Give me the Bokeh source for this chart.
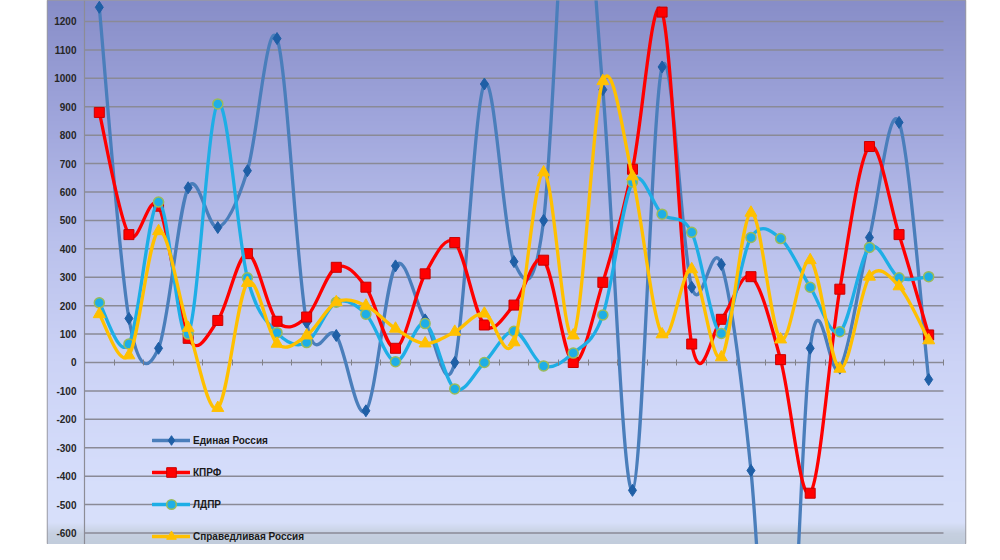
import numpy as np
from bokeh.plotting import figure
from bokeh.models import Range1d, FixedTicker, Legend, LegendItem, LinearAxis
from bokeh.embed import file_html
from bokeh.resources import INLINE

# ---------------- data ----------------
districts = list(range(1, 30))
series_names = ["Единая Россия", "КПРФ", "ЛДПР", "Справедливая Россия"]
er = [1250, 155, 50, 615, 475, 675, 1140, 140, 95, -170, 340, 150, 0, 980, 355,
      500, 2000, 960, -450, 1040, 265, 345, -380, -1700, 50, -20, 440, 845, -60]
kprf = [880, 450, 550, 85, 148, 383, 145, 160, 335, 265, 50, 312, 422, 132, 202,
        360, 0, 282, 680, 1233, 65, 152, 302, 10, -460, 258, 760, 450, 97]
ldpr = [210, 65, 565, 100, 910, 298, 105, 70, 212, 170, 3, 137, -93, 0, 110,
        -12, 33, 167, 635, 522, 458, 102, 440, 436, 265, 108, 405, 298, 302]
sr = [170, 25, 462, 122, -160, 280, 66, 95, 212, 200, 119, 67, 108, 172, 71,
      669, 95, 990, 655, 99, 328, 18, 527, 81, 360, -22, 302, 268, 78]
y_ticks = list(range(-700, 1300, 100))

x = np.arange(len(districts), dtype=float)

X0, X1 = -1.749, 29.243
Y0, Y1 = -640.5, 1273.9

p = figure(width=984, height=544, output_backend="svg", toolbar_location=None,
           x_range=Range1d(X0, X1), y_range=Range1d(Y0, Y1),
           x_axis_location=None, y_axis_location=None,
           min_border_left=47, min_border_right=19, min_border_top=0, min_border_bottom=0)
p.border_fill_color = "white"
p.background_fill_color = "#C8CFF4"
p.outline_line_color = "#9A9AA2"
p.outline_line_width = 1.5
p.xgrid.visible = False
p.ygrid.visible = False

# ---------------- gradient background ----------------
H = 544
stops_y = [0, 120, 240, 360, 480, 522, 533, 560]
stops_c = [(136, 142, 200), (160, 166, 220), (186, 193, 236), (204, 211, 246),
           (214, 222, 251), (216, 224, 250), (198, 208, 224), (188, 200, 214)]
img = np.empty((H, 1), dtype=np.uint32)
view = img.view(dtype=np.uint8).reshape((H, 1, 4))
wy = 544 - np.arange(H) - 0.5
for ch in range(3):
    view[:, 0, ch] = np.interp(wy, stops_y, [c[ch] for c in stops_c]).astype(np.uint8)
view[:, 0, 3] = 255
p.image_rgba(image=[img], x=X0, y=Y0, dw=X1 - X0, dh=Y1 - Y0, level="image")

# ---------------- grid lines (plot area only) ----------------
n_t = len(y_ticks)
p.segment(x0=[x[0] - 0.5] * n_t, y0=y_ticks, x1=[x[-1] + 0.5] * n_t, y1=y_ticks,
          line_color="#8A8A96", line_width=1.5)

# ---------------- axes ----------------
yax = LinearAxis(ticker=FixedTicker(ticks=y_ticks), fixed_location=x[0] - 0.5)
yax.axis_line_color = "#8C8C96"
yax.axis_line_width = 1.2
yax.major_tick_out = 0
yax.major_tick_in = 0
yax.minor_tick_out = 0
yax.minor_tick_in = 0
yax.major_label_standoff = 8
yax.major_label_overrides = {t: str(t) for t in y_ticks}
yax.major_label_text_font = "Liberation Sans"
yax.major_label_text_font_style = "bold"
yax.major_label_text_font_size = "10px"
yax.major_label_text_color = "#262626"
p.add_layout(yax, "left")

bounds = [i - 0.5 for i in range(len(districts) + 1)]
xax = LinearAxis(ticker=FixedTicker(ticks=bounds), fixed_location=0)
xax.axis_line_color = None
xax.major_tick_in = 3
xax.major_tick_out = 3
xax.major_tick_line_color = "#808088"
xax.minor_tick_out = 0
xax.minor_tick_in = 0
xax.major_label_text_color = None
xax.major_label_text_font_size = "1px"
p.add_layout(xax, "below")


# ---------------- smoothed series ----------------
def bezier_args(vals):
    y = np.asarray(vals, dtype=float)
    n = len(y)
    xp = np.concatenate([[x[0]], x, [x[-1]]])
    yp = np.concatenate([[y[0]], y, [y[-1]]])
    xm1, ym1 = xp[0:n - 1], yp[0:n - 1]
    xi, yi = xp[1:n], yp[1:n]
    xn, yn = xp[2:n + 1], yp[2:n + 1]
    xn2, yn2 = xp[3:n + 2], yp[3:n + 2]
    return dict(x0=xi, y0=yi, x1=xn, y1=yn,
                cx0=xi + (xn - xm1) / 6.0, cy0=yi + (yn - ym1) / 6.0,
                cx1=xn - (xn2 - xi) / 6.0, cy1=yn - (yn2 - yi) / 6.0)


styles = [
    dict(line="#4A7EBB", marker="diamond", size=12, fill="#1F5FA6", mline="#1F5FA6", lw=1),
    dict(line="#FF0000", marker="square", size=10, fill="#FF0000", mline="#C80000", lw=1),
    dict(line="#1EAEE6", marker="circle", size=10, fill="#1EAEE6", mline="#9BBB59", lw=1.5),
    dict(line="#FFC000", marker="triangle", size=12, fill="#FFC000", mline="#FFC000", lw=1),
]
items = []
for name, vals, st in zip(series_names, [er, kprf, ldpr, sr], styles):
    br = p.bezier(**bezier_args(vals), line_color=st["line"], line_width=3.3, line_cap="round")
    sc = p.scatter(x, vals, marker=st["marker"], size=st["size"],
                   fill_color=st["fill"], line_color=st["mline"], line_width=st["lw"])
    items.append(LegendItem(label=name, renderers=[br, sc]))

legend = Legend(items=items, location=(105, -4), orientation="vertical",
                padding=0, margin=0, spacing=8, glyph_width=38, glyph_height=24,
                label_height=24, label_standoff=3,
                background_fill_alpha=0, border_line_color=None,
                label_text_font="Liberation Sans", label_text_font_style="bold",
                label_text_font_size="10px", label_text_color="#1a1a1a")
p.add_layout(legend)

open("out.html", "w").write(file_html(p, INLINE))
